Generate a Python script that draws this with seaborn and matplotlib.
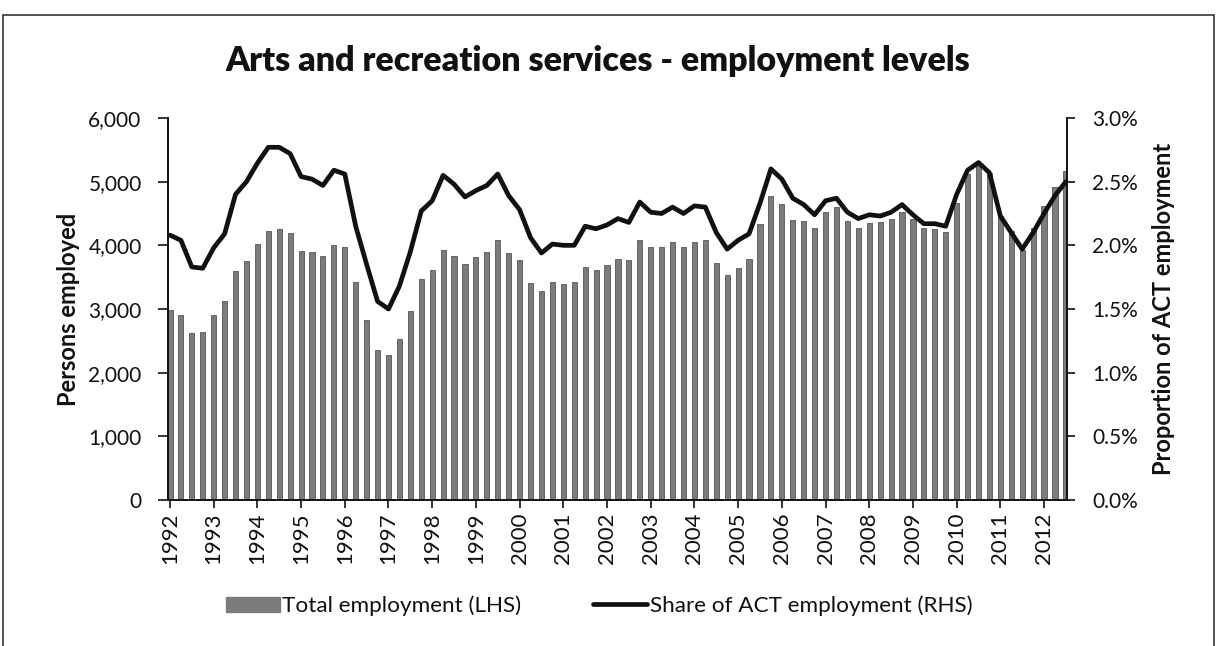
import numpy as np
import pandas as pd
import matplotlib
matplotlib.use("Agg")
import matplotlib.pyplot as plt
from matplotlib.ticker import FuncFormatter
from matplotlib.patches import Rectangle, Patch
from matplotlib.lines import Line2D
import seaborn as sns

# Quarterly series, Feb 1992 to Aug 2012
years = [str(y) for y in range(1992, 2013)]
quarter_months = ["Feb", "May", "Aug", "Nov"]

employment = [
    2980, 2910, 2620, 2640, 2900, 3120, 3600, 3760, 4020, 4220, 4250, 4190,
    3910, 3890, 3830, 4010, 3970, 3420, 2830, 2360, 2280, 2530, 2970, 3470,
    3610, 3920, 3840, 3700, 3810, 3890, 4090, 3880, 3770, 3410, 3290, 3430,
    3400, 3430, 3660, 3620, 3690, 3780, 3770, 4080, 3980, 3970, 4050, 3970,
    4060, 4080, 3720, 3540, 3640, 3790, 4340, 4770, 4650, 4400, 4380, 4280,
    4530, 4600, 4380, 4280, 4350, 4360, 4420, 4520, 4420, 4270, 4250, 4210,
    4670, 5120, 5250, 5140, 4460, 4220, 3930, 4270, 4610, 4920, 5160,
]

share_pct = [
    2.08, 2.04, 1.83, 1.82, 1.98, 2.09, 2.40, 2.50, 2.645, 2.77, 2.77, 2.72,
    2.54, 2.52, 2.47, 2.59, 2.56, 2.15, 1.85, 1.56, 1.50, 1.68, 1.95, 2.27,
    2.35, 2.55, 2.48, 2.38, 2.43, 2.47, 2.56, 2.39, 2.28, 2.06, 1.94, 2.01,
    2.00, 2.00, 2.15, 2.13, 2.16, 2.21, 2.18, 2.34, 2.26, 2.25, 2.30, 2.25,
    2.31, 2.30, 2.10, 1.97, 2.04, 2.09, 2.33, 2.60, 2.52, 2.37, 2.32, 2.24,
    2.35, 2.37, 2.26, 2.21, 2.24, 2.23, 2.26, 2.32, 2.24, 2.17, 2.17, 2.15,
    2.40, 2.59, 2.65, 2.57, 2.23, 2.10, 1.97, 2.10, 2.25, 2.39, 2.50,
]

n = len(employment)
periods = [f"{quarter_months[i % 4]} {years[i // 4]}" for i in range(n)]
df = pd.DataFrame({
    "pos": np.arange(n),
    "period": periods,
    "employment": employment,
    "share": share_pct,
})

BAR = "#7c7c7c"
INK = "#111111"

sns.set_theme(style="white")
plt.rcParams["font.family"] = ["Lato", "DejaVu Sans"]

fig = plt.figure(figsize=(12.19, 6.46), dpi=100)
ax = fig.add_axes([168 / 1219, 1 - 500 / 646, (1067 - 168) / 1219, (500 - 118) / 646])

sns.barplot(data=df, x="pos", y="employment", ax=ax, color=BAR,
            saturation=1, width=0.47, edgecolor="#555555", linewidth=0.6)

ax2 = ax.twinx()
sns.lineplot(data=df, x="pos", y="share", ax=ax2, color=INK,
             linewidth=3.4, legend=False)

ax.set_xlim(-0.18, n - 0.9)
ax.set_ylim(0, 6000)
ax2.set_ylim(0, 3.0)
ax.set_yticks(np.arange(0, 6001, 1000))
ax2.set_yticks(np.arange(0, 3.01, 0.5))
ax.yaxis.set_major_formatter(FuncFormatter(lambda v, p: f"{v:,.0f}"))
ax2.yaxis.set_major_formatter(FuncFormatter(lambda v, p: f"{v:.1f}%"))

ax.set_xticks(np.arange(0, n, 4))
ax.set_xticklabels(years, rotation=90)

for a in (ax, ax2):
    for s in a.spines.values():
        s.set_visible(False)
    a.grid(False)
ax.spines["left"].set_visible(True)
ax.spines["bottom"].set_visible(True)
ax2.spines["right"].set_visible(True)
for s in (ax.spines["left"], ax.spines["bottom"], ax2.spines["right"]):
    s.set_color(INK)
    s.set_linewidth(1.4)

ax.tick_params(axis="y", which="major", left=True, length=7, width=1.2,
               color=INK, pad=12, labelsize=15, labelcolor=INK)
ax.tick_params(axis="x", which="major", bottom=True, length=6, width=1.2,
               color=INK, pad=3, labelsize=16, labelcolor=INK)
ax2.tick_params(axis="y", which="major", right=True, length=6, width=1.2,
                color=INK, pad=12, labelsize=15, labelcolor=INK)

ax.set_xlabel("")
ax.set_ylabel("Persons employed", fontsize=17, fontweight="bold",
              labelpad=6, color=INK)
ax2.set_ylabel("Proportion of ACT employment", fontsize=17,
               fontweight="bold", labelpad=10, color=INK)

fig.text(598 / 1219, 1 - 61 / 646, "Arts and recreation services - employment levels",
         ha="center", va="center", fontsize=24.5, fontweight="heavy", color=INK)

# legend below the plot area
handles = [
    Patch(facecolor=BAR, edgecolor=BAR, label="Total employment (LHS)"),
    Line2D([0], [0], color=INK, linewidth=3.4, label="Share of ACT employment (RHS)"),
]
fig.legend(handles=handles, loc="center", bbox_to_anchor=(599 / 1219, 1 - 606 / 646),
           ncol=2, frameon=False, fontsize=16.2, handlelength=2.4,
           handleheight=0.7, handletextpad=0.1, columnspacing=3.2,
           labelcolor=INK)

# chart border
fig.patches.append(Rectangle((3 / 1219, -0.01), (1214 - 3) / 1219, 1 - 15 / 646 + 0.01,
                             transform=fig.transFigure, fill=False,
                             edgecolor="#333333", linewidth=1.2))

fig.savefig("out.png", dpi=100)
